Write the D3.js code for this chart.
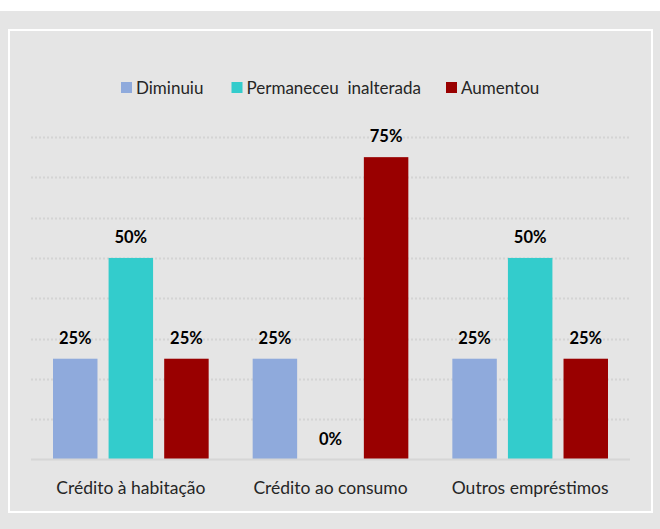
<!DOCTYPE html>
<html>
<head>
<meta charset="utf-8">
<script src="https://cdn.jsdelivr.net/npm/d3@7"></script>
<style>
  html, body { margin: 0; padding: 0; background: #ffffff; }
  svg { display: block; }
  text { font-family: Lato, "Open Sans", sans-serif; }
</style>
</head>
<body>
<div id="chart"></div>
<script>
// chart data
var categories = ['Crédito à habitação', 'Crédito ao consumo', 'Outros empréstimos'];
var seriesNames = ['Diminuiu', 'Permaneceu  inalterada', 'Aumentou'];
var diminuiu = [25, 25, 25];
var permaneceu = [50, 0, 50];
var aumentou = [25, 75, 25];
var yTicks = [0, 10, 20, 30, 40, 50, 60, 70, 80];

var colors = ['#8faadc', '#33cccc', '#990000'];

// svg area
var svgWidth = 660;
var svgHeight = 529;

var margin = { top: 137, right: 30, bottom: 70, left: 31 };
var chartWidth = 630 - margin.left;
var chartHeight = 459.5 - margin.top;

var svg = d3.select('#chart')
    .append('svg')
    .attr('width', svgWidth)
    .attr('height', svgHeight);

// grey backdrop and white-framed box
svg.append('rect')
    .attr('x', 0).attr('y', 11)
    .attr('width', svgWidth).attr('height', svgHeight - 11)
    .attr('fill', '#e5e5e5');

svg.append('rect')
    .attr('x', 9).attr('y', 30)
    .attr('width', 643).attr('height', 482)
    .attr('fill', 'none')
    .attr('stroke', '#ffffff')
    .attr('stroke-width', 2);

var chartGroup = svg.append('g')
    .attr('transform', `translate(${margin.left}, ${margin.top})`);

// scales
var x0 = d3.scaleBand()
    .domain(categories)
    .range([0, chartWidth])
    .paddingInner(0)
    .paddingOuter(0);

var x1 = d3.scaleBand()
    .domain(seriesNames)
    .range([22, x0.bandwidth() - 22])
    .paddingInner(0.2);

var y = d3.scaleLinear()
    .domain([0, 80])
    .range([chartHeight, 0]);

// dotted gridlines
chartGroup.append('g')
    .selectAll('line')
    .data(yTicks.filter(d => d > 0))
    .enter()
    .append('line')
    .attr('x1', 0)
    .attr('x2', chartWidth)
    .attr('y1', d => Math.round(y(d)) + 0.5)
    .attr('y2', d => Math.round(y(d)) + 0.5)
    .attr('stroke', '#d4d4d4')
    .attr('stroke-width', 2)
    .attr('stroke-dasharray', '2,2');

// rows of values per category
var rows = categories.map((c, i) => ({
    category: c,
    values: [diminuiu[i], permaneceu[i], aumentou[i]]
}));

var groups = chartGroup.selectAll('.grp')
    .data(rows)
    .enter()
    .append('g')
    .attr('class', 'grp')
    .attr('transform', d => `translate(${x0(d.category)}, 0)`);

groups.selectAll('rect')
    .data(d => d.values.map((v, k) => ({ key: seriesNames[k], value: v, k: k })))
    .enter()
    .append('rect')
    .attr('x', d => x1(d.key))
    .attr('width', x1.bandwidth())
    .attr('y', d => y(d.value))
    .attr('height', d => chartHeight - y(d.value))
    .attr('fill', d => colors[d.k]);

groups.selectAll('.lbl')
    .data(d => d.values.map((v, k) => ({ key: seriesNames[k], value: v })))
    .enter()
    .append('text')
    .attr('class', 'lbl')
    .attr('x', d => x1(d.key) + x1.bandwidth() / 2)
    .attr('y', d => y(d.value) - 15)
    .attr('text-anchor', 'middle')
    .attr('font-size', '16.5px')
    .attr('font-weight', 'bold')
    .attr('fill', '#000000')
    .text(d => d.value + '%');

// baseline
chartGroup.append('line')
    .attr('x1', 0)
    .attr('x2', chartWidth)
    .attr('y1', chartHeight)
    .attr('y2', chartHeight)
    .attr('stroke', '#d6d6d6')
    .attr('stroke-width', 2);

// category axis
var bottomAxis = d3.axisBottom(x0).tickSize(0).tickPadding(0);
var xAxis = chartGroup.append('g')
    .attr('transform', `translate(0, ${chartHeight})`)
    .call(bottomAxis);
xAxis.select('.domain').remove();
xAxis.selectAll('text')
    .attr('dy', null)
    .attr('y', 34)
    .attr('font-size', '17.5px')
    .attr('font-family', 'Lato, sans-serif')
    .attr('fill', '#262626');

// legend
var legendX = [121, 231.5, 446];
var legend = svg.append('g')
    .selectAll('g')
    .data(seriesNames)
    .enter()
    .append('g')
    .attr('transform', (d, i) => `translate(${legendX[i]}, 82)`);

legend.append('rect')
    .attr('width', 11)
    .attr('height', 11)
    .attr('fill', (d, i) => colors[i]);

legend.append('text')
    .attr('x', 15)
    .attr('y', 11.5)
    .attr('font-size', '17px')
    .attr('fill', '#262626')
    .style('white-space', 'pre')
    .text(d => d);
</script>
</body>
</html>
